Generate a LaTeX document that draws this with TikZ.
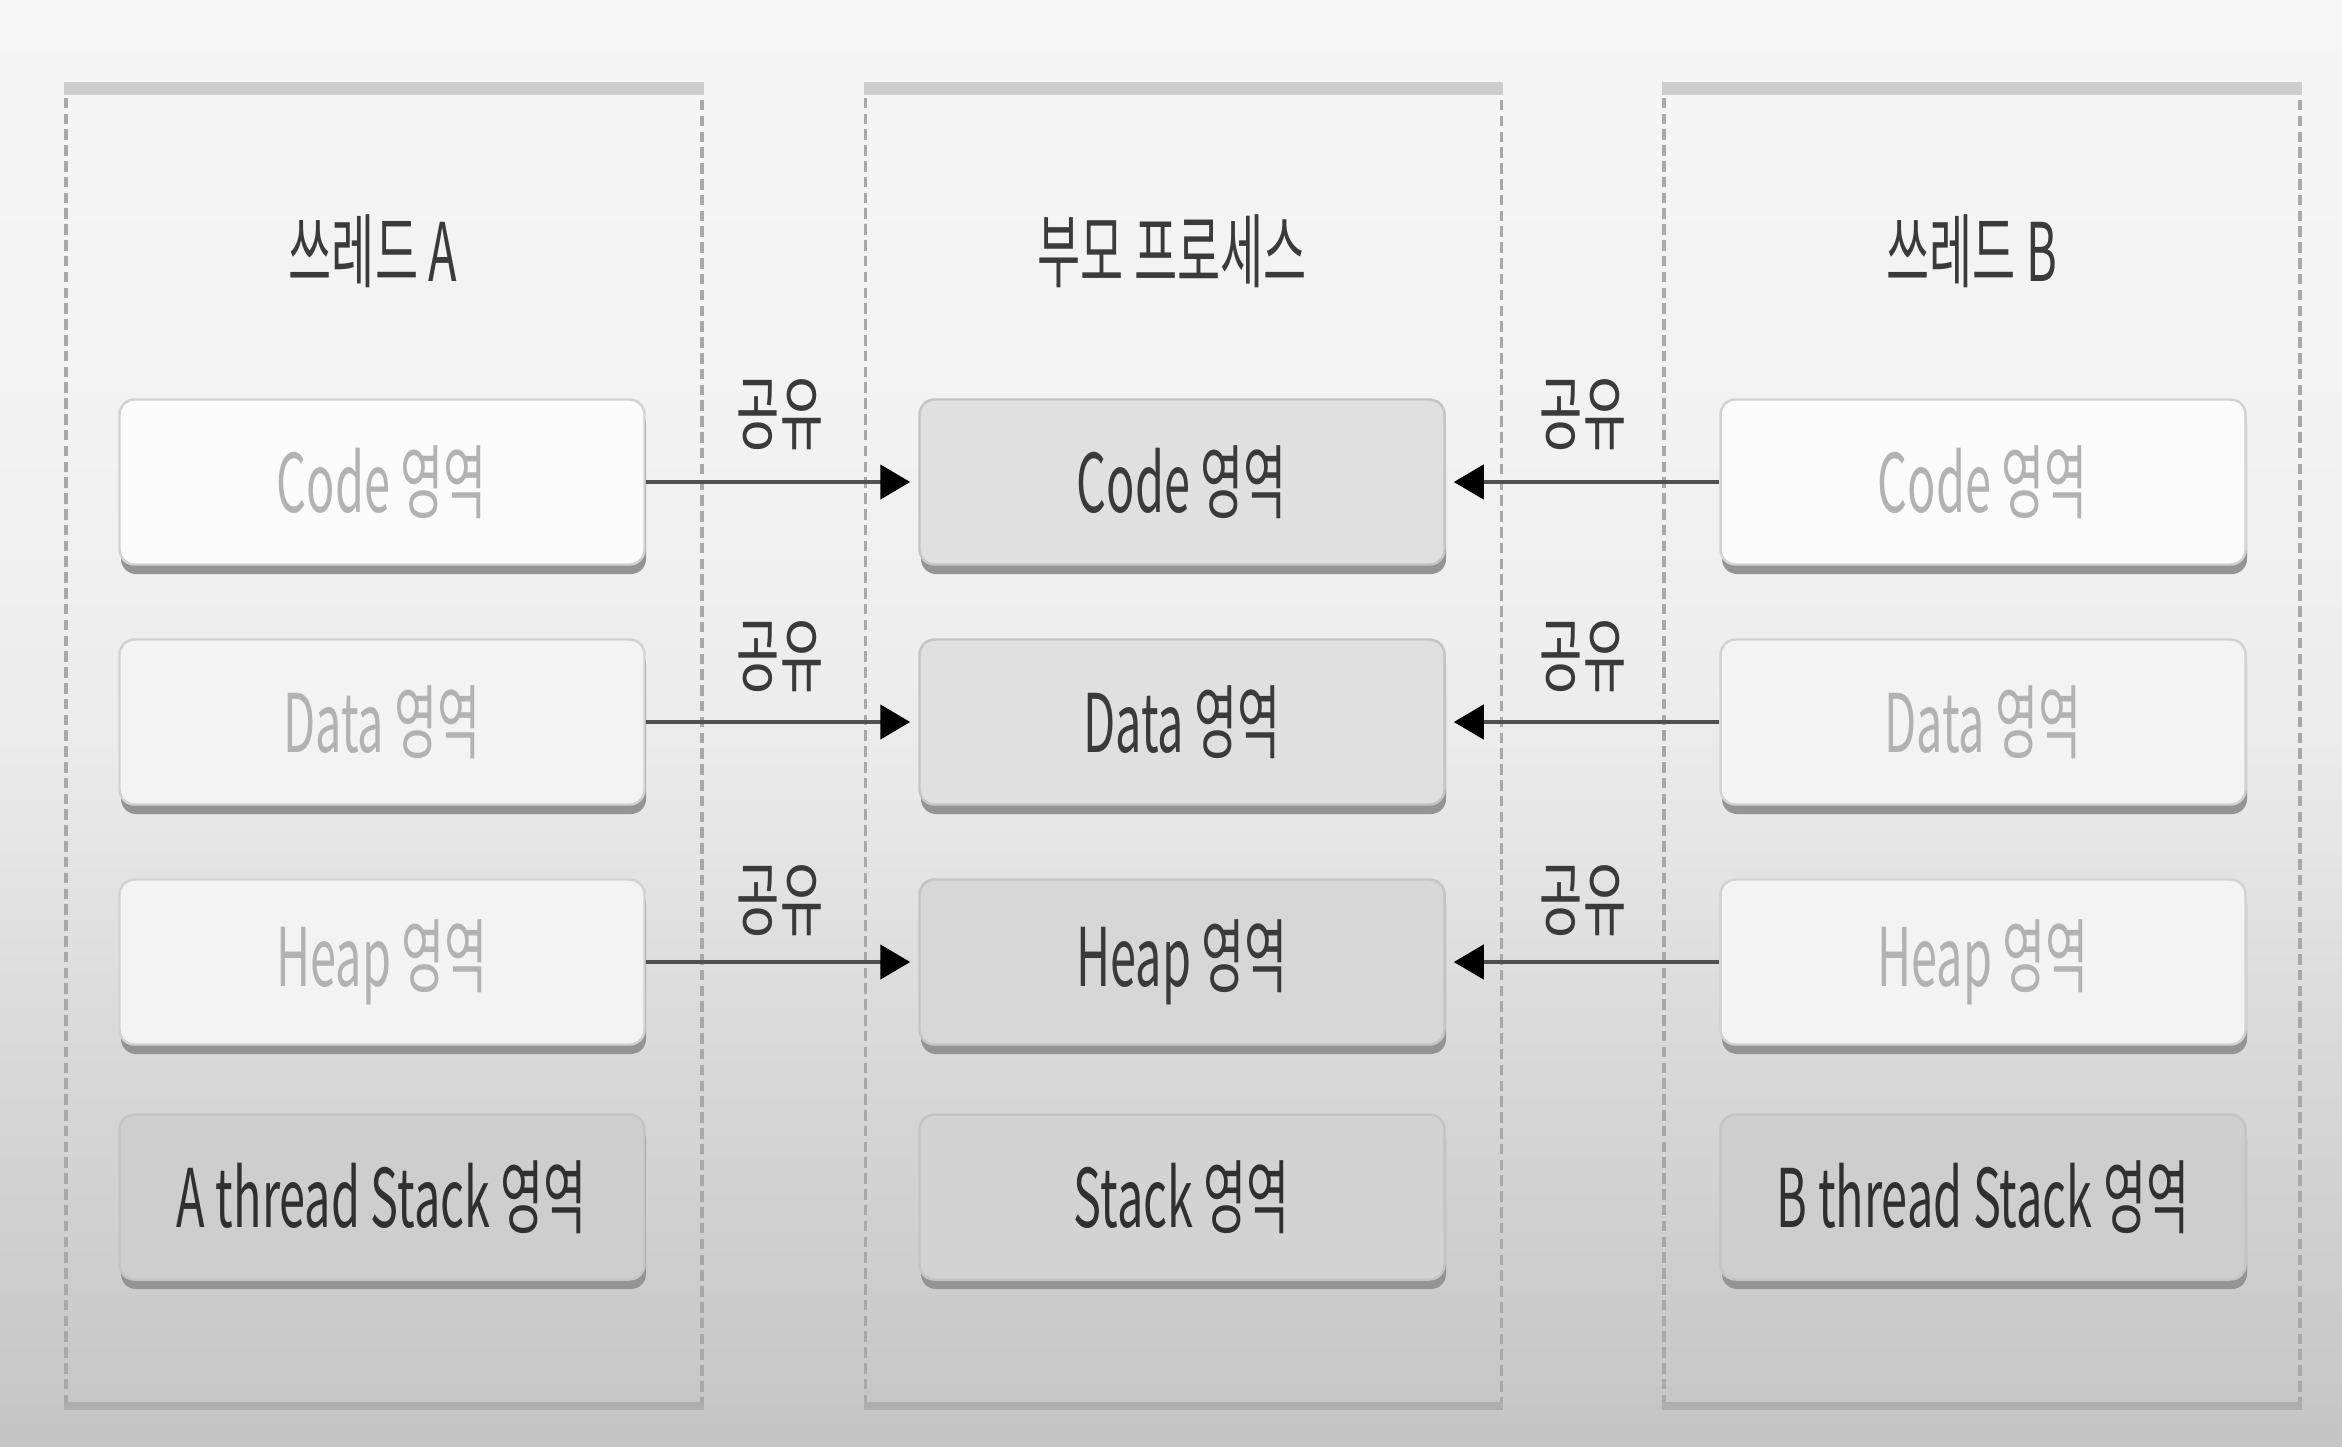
\documentclass[tikz,border=0pt]{standalone}
\usepackage{fontspec}
\usepackage{graphicx}
\newfontfamily\kr{Noto Sans CJK KR}
\usetikzlibrary{arrows.meta,shadows}
\definecolor{outerline}{HTML}{A8A8A8}
\definecolor{topbar}{HTML}{CDCDCD}
\definecolor{ghostfill}{HTML}{FBFBFB}
\definecolor{ghostfillb}{HTML}{F3F3F3}
\definecolor{ghostdraw}{HTML}{D2D2D2}
\definecolor{ghosttext}{HTML}{B2B2B2}
\definecolor{midfill}{HTML}{E0E0E0}
\definecolor{middraw}{HTML}{C4C4C4}
\definecolor{midtext}{HTML}{3A3A3A}
\definecolor{stackfill}{HTML}{CECECE}
\definecolor{stacktext}{HTML}{303030}
\definecolor{shadowgray}{HTML}{949494}
\definecolor{arrowgray}{HTML}{505050}
\definecolor{titletext}{HTML}{3A3A3A}
\pgfdeclareverticalshading{bgshade}{100bp}{
  color(0bp)=(black!23); color(25bp)=(black!23); color(38.5bp)=(black!15);
  color(50bp)=(black!7.5); color(60bp)=(black!5); color(75bp)=(black!4); color(100bp)=(black!4)}
\newcommand\cond[1]{\scalebox{0.58}[1]{#1}}
\tikzset{
  outerbox/.style={rectangle, draw=outerline, line width=0.9pt, dash pattern=on 3pt off 1.5pt, minimum width=6.36cm, minimum height=13.14cm},
  region/.style={rectangle, rounded corners=0.15cm, minimum width=5.25cm, minimum height=1.65cm, line width=0.7pt,
    font=\kr\fontsize{23}{27}\selectfont,
    drop shadow={shadow xshift=0.015cm, shadow yshift=-0.095cm, fill=shadowgray, opacity=1}},
  ghost/.style={region, fill=ghostfill, draw=ghostdraw, text=ghosttext},
  ghostb/.style={region, fill=ghostfillb, draw=ghostdraw, text=ghosttext},
  shared/.style={region, fill=midfill, draw=middraw, text=midtext},
  stackbox/.style={region, fill=stackfill, draw=middraw, text=stacktext},
  titlelbl/.style={font=\kr\fontsize{23}{27}\selectfont, text=titletext},
  sharelbl/.style={font=\kr\fontsize{23}{27}\selectfont, text=titletext},
  arr/.style={draw=arrowgray, line width=1.3pt, shorten >=0.08cm, -{Triangle[length=0.3cm, width=0.34cm, color=black]}}
}
\begin{document}
\begin{tikzpicture}
\useasboundingbox (0,0) rectangle (23.42,-14.46);
\shade[shading=bgshade] (0,0) rectangle (23.42,-14.46);

% outer containers
\node[outerbox] (boxA) at (3.84,-7.47) {};
\node[outerbox] (boxP) at (11.835,-7.47) {};
\node[outerbox] (boxB) at (19.82,-7.47) {};
\foreach \b in {boxA,boxP,boxB}{
  \draw[topbar, line width=0.13cm] (\b.north west) -- (\b.north east);
  \draw[topbar!85!black, line width=0.08cm] (\b.south west) -- (\b.south east);
}

% titles
\node[titlelbl] (tA) at (3.73,-2.51) {\cond{쓰레드 A}};
\node[titlelbl] (tP) at (11.72,-2.51) {\cond{부모 프로세스}};
\node[titlelbl] (tB) at (19.72,-2.51) {\cond{쓰레드 B}};

% thread A
\node[ghost]  (aCode)  at (3.82,-4.82) {\cond{Code 영역}};
\node[ghostb] (aData)  at (3.82,-7.22) {\cond{Data 영역}};
\node[ghostb] (aHeap)  at (3.82,-9.62) {\cond{Heap 영역}};
\node[stackbox] (aStack) at (3.82,-11.97) {\cond{A thread Stack 영역}};

% parent process
\node[shared] (pCode)  at (11.82,-4.82) {\cond{Code 영역}};
\node[shared] (pData)  at (11.82,-7.22) {\cond{Data 영역}};
\node[shared, fill=midfill!96!black] (pHeap)  at (11.82,-9.62) {\cond{Heap 영역}};
\node[stackbox, fill=midfill!94!black] (pStack) at (11.82,-11.97) {\cond{Stack 영역}};

% thread B
\node[ghost]  (bCode)  at (19.83,-4.82) {\cond{Code 영역}};
\node[ghostb] (bData)  at (19.83,-7.22) {\cond{Data 영역}};
\node[ghostb] (bHeap)  at (19.83,-9.62) {\cond{Heap 영역}};
\node[stackbox] (bStack) at (19.83,-11.97) {\cond{B thread Stack 영역}};

% arrows
\draw[arr] (aCode.east) -- (pCode.west);
\draw[arr] (aData.east) -- (pData.west);
\draw[arr] (aHeap.east) -- (pHeap.west);
\draw[arr] (bCode.west) -- (pCode.east);
\draw[arr] (bData.west) -- (pData.east);
\draw[arr] (bHeap.west) -- (pHeap.east);

% share labels
\node[sharelbl] (sA1) at (7.80,-4.15) {\cond{공유}};
\node[sharelbl] (sA2) at (7.80,-6.57) {\cond{공유}};
\node[sharelbl] (sA3) at (7.80,-9.01) {\cond{공유}};
\node[sharelbl] (sB1) at (15.83,-4.15) {\cond{공유}};
\node[sharelbl] (sB2) at (15.83,-6.57) {\cond{공유}};
\node[sharelbl] (sB3) at (15.83,-9.01) {\cond{공유}};
\end{tikzpicture}
\end{document}
